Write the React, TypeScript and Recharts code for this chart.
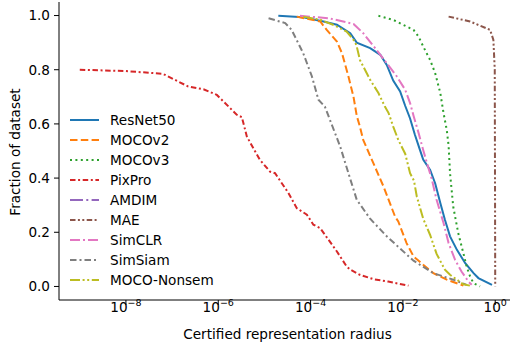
import React from 'react';
import { LineChart, Line, XAxis, YAxis, Legend, Label } from 'recharts';

// ---- data (radius, fraction) ----
const resnetR = [2.0e-5, 6.92e-5, 1.9e-4, 3.72e-4, 7.24e-4, 1.0e-3, 1.95e-3, 3.24e-3, 4.47e-3, 6.17e-3, 8.71e-3, 1.12e-2, 1.43e-2, 1.82e-2, 2.34e-2, 2.75e-2, 3.89e-2, 5.01e-2, 6.46e-2, 8.13e-2, 1.05e-1, 1.48e-1, 2.24e-1, 3.39e-1, 4.32e-1, 8.51e-1];
const resnetF = [0.999, 0.994, 0.978, 0.966, 0.935, 0.9, 0.88, 0.855, 0.818, 0.76, 0.72, 0.667, 0.62, 0.56, 0.504, 0.468, 0.43, 0.38, 0.308, 0.246, 0.185, 0.135, 0.086, 0.049, 0.031, 0.006];

const mocov2R = [5.01e-5, 1.62e-4, 2.24e-4, 3.72e-4, 4.79e-4, 6.61e-4, 8.51e-4, 1.0e-3, 1.17e-3, 1.38e-3, 2.29e-3, 3.8e-3, 6.76e-3, 7.94e-3, 1.2e-2, 1.7e-2, 2.75e-2, 4.57e-2, 8.91e-2, 2.04e-1];
const mocov2F = [0.996, 0.978, 0.947, 0.904, 0.861, 0.775, 0.7, 0.63, 0.59, 0.541, 0.455, 0.369, 0.258, 0.24, 0.16, 0.111, 0.08, 0.049, 0.025, 0.003];

const mocov3R = [2.95e-3, 6.17e-3, 1.7e-2, 2.19e-2, 2.75e-2, 3.89e-2, 5.01e-2, 6.46e-2, 7.59e-2, 8.91e-2, 9.77e-2, 1.05e-1, 1.23e-1, 1.58e-1, 2.04e-1, 2.4e-1, 2.85e-1, 3.39e-1, 4.68e-1];
const mocov3F = [0.999, 0.984, 0.947, 0.922, 0.886, 0.836, 0.787, 0.714, 0.64, 0.578, 0.52, 0.418, 0.295, 0.197, 0.123, 0.074, 0.037, 0.012, 0.0];

const pixproR = [1.0e-9, 1.0e-8, 6.31e-8, 2.24e-7, 4.79e-7, 9.33e-7, 2.51e-6, 3.24e-6, 4.17e-6, 7.94e-6, 1.32e-5, 1.7e-5, 3.31e-5, 5.01e-5, 8.32e-5, 1.15e-4, 1.62e-4, 3.72e-4, 6.03e-4, 7.24e-4, 1.17e-3, 2.29e-3, 4.79e-3, 1.32e-2];
const pixproF = [0.8, 0.795, 0.785, 0.738, 0.728, 0.707, 0.634, 0.625, 0.553, 0.468, 0.424, 0.418, 0.345, 0.289, 0.265, 0.228, 0.215, 0.129, 0.074, 0.062, 0.043, 0.027, 0.018, 0.003];

const amdimR: number[] = [];
const amdimF: number[] = [];

const maeR = [9.77e-2, 2.85e-1, 7.76e-1, 9.12e-1, 9.77e-1, 9.89e-1, 1.0];
const maeF = [0.996, 0.978, 0.947, 0.91, 0.8, 0.4, 0.0];

const simclrR = [5.89e-5, 2.51e-4, 8.51e-4, 1.38e-3, 2.69e-3, 4.47e-3, 7.41e-3, 1.12e-2, 1.43e-2, 1.7e-2, 2.19e-2, 2.75e-2, 3.39e-2, 4.17e-2, 5.37e-2, 7.59e-2, 9.77e-2, 1.35e-1, 1.86e-1, 2.63e-1, 3.09e-1];
const simclrF = [0.999, 0.99, 0.969, 0.935, 0.873, 0.824, 0.775, 0.726, 0.677, 0.63, 0.566, 0.504, 0.45, 0.4, 0.32, 0.234, 0.16, 0.098, 0.055, 0.018, 0.006];

const simsiamR = [1.23e-5, 2.82e-5, 3.89e-5, 6.92e-5, 1.07e-4, 1.48e-4, 2.04e-4, 2.88e-4, 4.37e-4, 6.61e-4, 1.0e-3, 1.95e-3, 4.47e-3, 8.71e-3, 1.7e-2, 4.57e-2, 1.23e-1, 2.4e-1];
const simsiamF = [0.99, 0.972, 0.947, 0.861, 0.775, 0.689, 0.664, 0.597, 0.517, 0.418, 0.32, 0.25, 0.185, 0.14, 0.095, 0.049, 0.025, 0.006];

const nonsemR = [6.92e-5, 1.58e-4, 3.16e-4, 6.03e-4, 9.12e-4, 1.0e-3, 1.17e-3, 1.95e-3, 2.95e-3, 4.07e-3, 4.9e-3, 6.17e-3, 7.94e-3, 1.12e-2, 1.43e-2, 1.74e-2, 2.0e-2, 2.75e-2, 3.89e-2, 5.37e-2, 8.13e-2, 1.05e-1, 1.48e-1, 2.04e-1, 2.82e-1];
const nonsemF = [0.996, 0.985, 0.965, 0.941, 0.904, 0.886, 0.836, 0.763, 0.714, 0.664, 0.64, 0.59, 0.541, 0.49, 0.418, 0.39, 0.332, 0.25, 0.19, 0.12, 0.062, 0.043, 0.025, 0.008, 0.003];

const seriesNames = ['ResNet50', 'MOCOv2', 'MOCOv3', 'PixPro', 'AMDIM', 'MAE', 'SimCLR', 'SimSiam', 'MOCO-Nonsem'];
const seriesColors = ['#1f77b4', '#ff7f0e', '#2ca02c', '#d62728', '#9467bd', '#8c564b', '#e377c2', '#7f7f7f', '#bcbd22'];
const seriesDashes = ['', '7.5 3.3', '2 3.4', '5.5 2.6 2 2.6', '13 3.3 2 3.3', '5.5 2.4 2 2.4 2 2.4', '10 3 2 3', '6.5 3 2 3', '10 2.6 2 2.6 2 2.6'];
const seriesR = [resnetR, mocov2R, mocov3R, pixproR, amdimR, maeR, simclrR, simsiamR, nonsemR];
const seriesF = [resnetF, mocov2F, mocov3F, pixproF, amdimF, maeF, simclrF, simsiamF, nonsemF];

const xTicks = [1e-8, 1e-6, 1e-4, 1e-2, 1];
const xTickExps = ['\u22128', '\u22126', '\u22124', '\u22122', '0'];
const yTicks = [0, 0.2, 0.4, 0.6, 0.8, 1.0];

const FONT = 'DejaVu Sans';
const FS = 13.6;
const LW = 2;

const XTick = (props: any) => {
  const { x, payload } = props;
  const idx = xTicks.indexOf(payload.value);
  return (
    <text x={x} y={312} textAnchor="middle" fontFamily={FONT} fontSize={FS} fill="#000">
      <tspan>10</tspan>
      <tspan dy={-6} fontSize={9.5}>{xTickExps[idx]}</tspan>
    </text>
  );
};

const LegendBox = () => (
  <svg width={170} height={185} style={{ display: 'block' }}>
    {seriesNames.map((n, i) => (
      <g key={n}>
        <line x1={8} x2={37} y1={12 + 20 * i} y2={12 + 20 * i} stroke={seriesColors[i]} strokeWidth={LW} strokeDasharray={seriesDashes[i] || undefined} />
        <text x={48} y={17 + 20 * i} fontFamily={FONT} fontSize={FS} fill="#000">{n}</text>
      </g>
    ))}
  </svg>
);

export default function App() {
  return (
    <div style={{ position: 'fixed', left: 0, top: 0, width: 510, height: 343, overflow: 'hidden', background: '#fff' }}>
      <LineChart width={520} height={343} margin={{ top: 2, right: 4, bottom: 0, left: 0 }}>
        <XAxis
          dataKey="r"
          type="number"
          scale="log"
          domain={[Math.pow(10, -9.45), Math.pow(10, 0.45)]}
          allowDataOverflow
          ticks={xTicks}
          tick={<XTick />}
          tickSize={5}
          height={43}
          stroke="#000"
          tickLine={{ stroke: '#000' }}
          axisLine={{ stroke: '#000' }}
        >
          <Label content={() => (
            <text x={287.5} y={339} textAnchor="middle" fontFamily={FONT} fontSize={FS} fill="#000">Certified representation radius</text>
          )} />
        </XAxis>
        <YAxis
          type="number"
          domain={[-0.05, 1.05]}
          allowDataOverflow
          ticks={yTicks}
          tickFormatter={(v: number) => v.toFixed(1)}
          tickSize={5}
          tickMargin={4}
          width={59}
          tick={{ fontFamily: FONT, fontSize: FS, fill: '#000' }}
          tickLine={{ stroke: '#000' }}
          axisLine={{ stroke: '#000' }}
        >
          <Label content={() => (
            <text x={15} y={152} transform="rotate(-90 15 152)" textAnchor="middle" dominantBaseline="central" fontFamily={FONT} fontSize={FS} fill="#000">Fraction of dataset</text>
          )} />
        </YAxis>
        <Legend
          layout="vertical"
          align="center"
          verticalAlign="middle"
          wrapperStyle={{ position: 'absolute', left: 62, top: 108, width: 170, height: 185 }}
          content={() => <LegendBox />}
        />
        {seriesNames.map((n, i) => (
          <Line
            key={n}
            name={n}
            data={seriesR[i].map((r, j) => ({ r, f: seriesF[i][j] }))}
            dataKey="f"
            stroke={seriesColors[i]}
            strokeWidth={LW}
            strokeDasharray={seriesDashes[i] || undefined}
            dot={false}
            activeDot={false}
            type="linear"
            isAnimationActive={false}
          />
        ))}
      </LineChart>
    </div>
  );
}
